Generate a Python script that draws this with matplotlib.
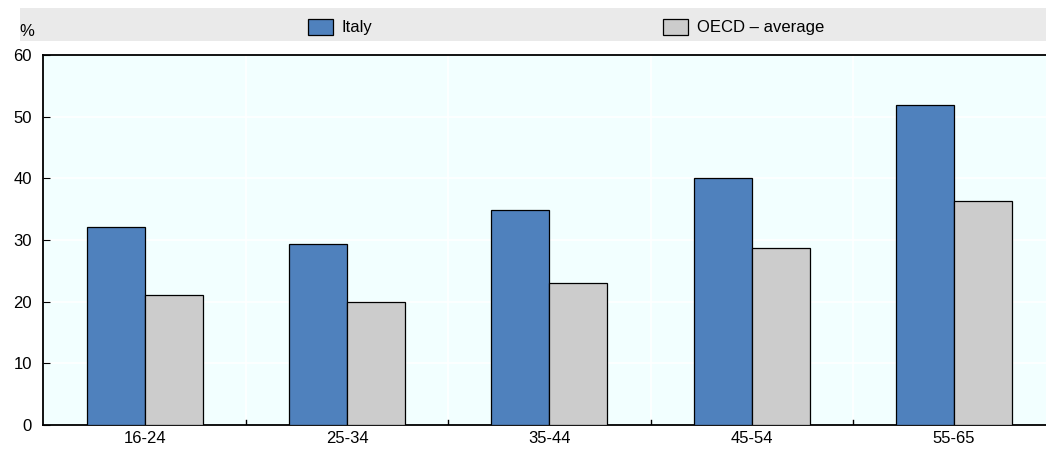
import matplotlib.pyplot as plt
from matplotlib.patches import Rectangle
import numpy as np

plt.rcParams['font.family'] = ['Liberation Sans Narrow', 'Liberation Sans', 'DejaVu Sans']

categories = ['16-24', '25-34', '35-44', '45-54', '55-65']
italy = [32.1, 29.3, 34.8, 40.0, 51.9]
oecd = [21.1, 19.9, 23.0, 28.7, 36.3]
series_names = ['Italy', 'OECD – average']

fig = plt.figure(figsize=(10.46, 4.5), dpi=100)
ax = fig.add_axes([0.0411, 0.0556, 0.9589, 0.8222])
ax.set_facecolor('#F2FFFF')

x = np.arange(len(categories))
w = 0.287
ax.bar(x - w / 2, italy, w, color='#4F81BD', edgecolor='black', linewidth=0.9, zorder=3)
ax.bar(x + w / 2, oecd, w, color='#CCCCCC', edgecolor='black', linewidth=0.9, zorder=3)

ax.set_xlim(-0.504, 4.455)
ax.set_ylim(0, 60)
ax.set_yticks(range(0, 61, 10))
ax.set_xticks(x)
ax.set_xticklabels(categories, fontsize=12)
ax.tick_params(axis='y', direction='in', length=5, labelsize=12, pad=8)
ax.tick_params(axis='x', length=0, labelsize=12, pad=4)

# white grid: horizontal at y ticks, vertical at category boundaries
for yv in range(10, 60, 10):
    ax.axhline(yv, color='white', linewidth=1.2, zorder=1)
for b in np.arange(0.5, len(categories) - 0.5, 1):
    ax.axvline(b, color='white', linewidth=1.2, zorder=1)
    ax.plot([b, b], [0, 0.8], color='black', linewidth=1, zorder=4)

ax.spines['right'].set_visible(False)
for s in ['left', 'bottom', 'top']:
    ax.spines[s].set_linewidth(1.3)
    ax.spines[s].set_color('black')

# legend band
fig.patches.append(Rectangle((0.019, 0.909), 0.981, 0.073, transform=fig.transFigure,
                             facecolor='#EAEAEA', edgecolor='none', zorder=0))
colors = ['#4F81BD', '#CCCCCC']
lx = [0.2945, 0.634]
for name, c, xx in zip(series_names, colors, lx):
    fig.patches.append(Rectangle((xx, 0.922), 0.024, 0.036, transform=fig.transFigure,
                                 facecolor=c, edgecolor='black', linewidth=0.9))
    fig.text(xx + 0.032, 0.938, name, fontsize=12, va='center', ha='left')

fig.text(0.019, 0.930, '%', fontsize=12, va='center', ha='left')

fig.savefig('out.png', dpi=100)
